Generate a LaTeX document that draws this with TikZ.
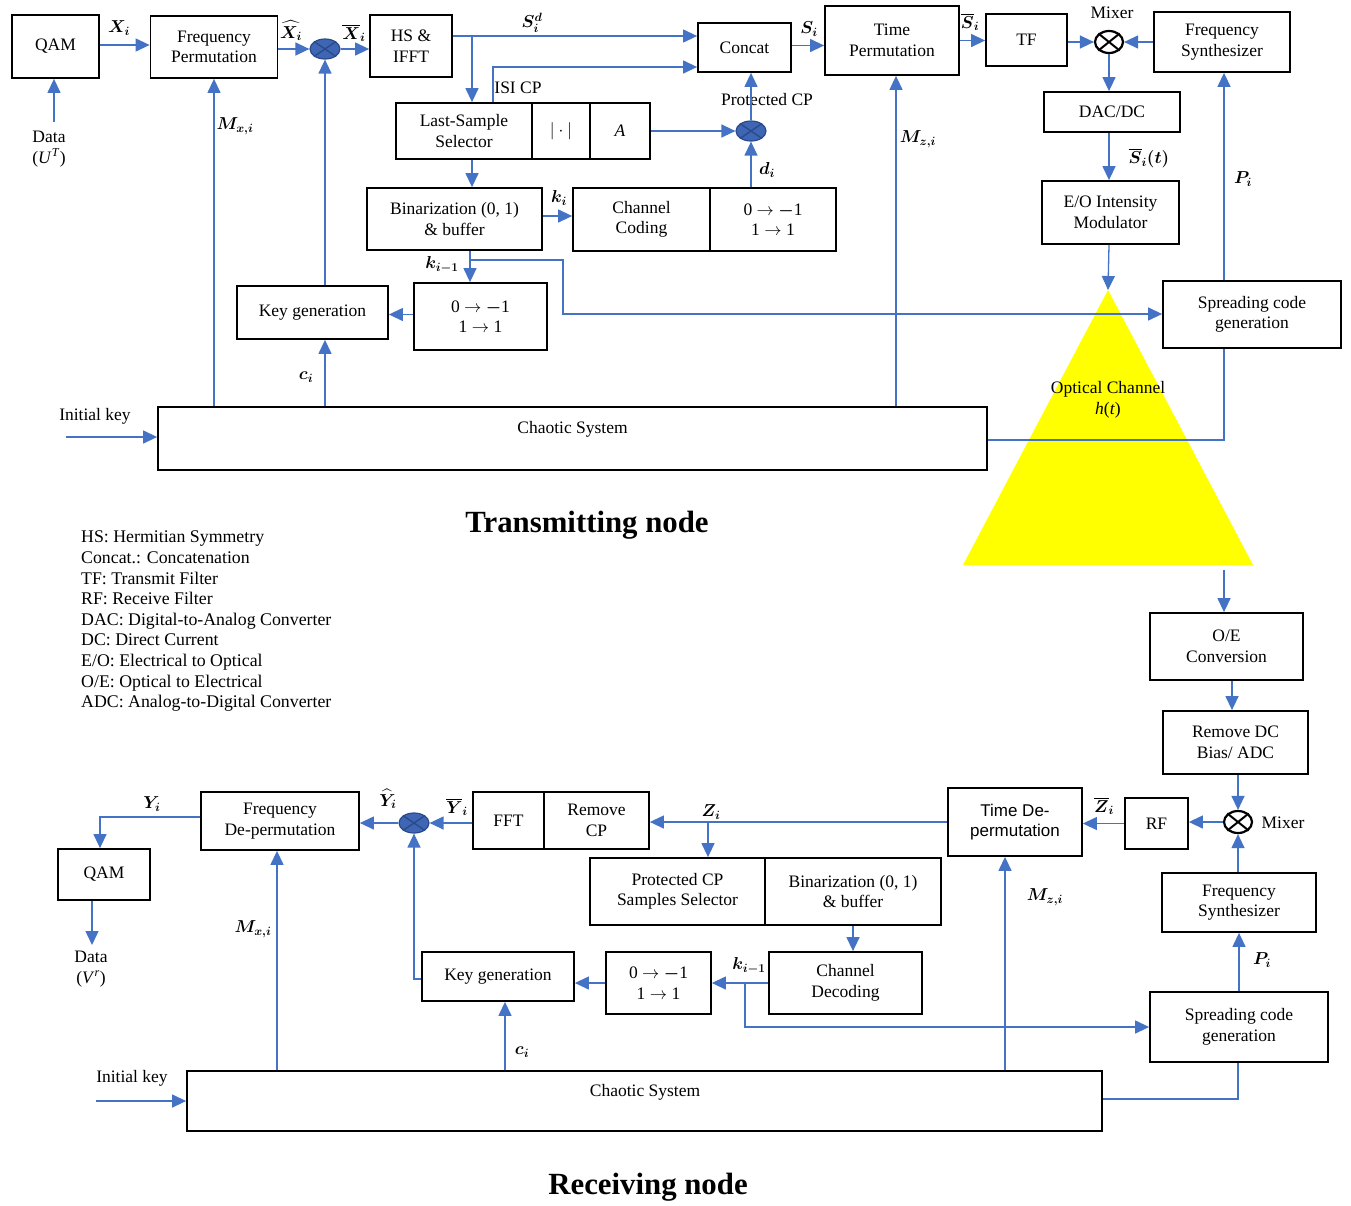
\documentclass[tikz,border=0pt]{standalone}
\usepackage{fontspec}
\setmainfont{Liberation Serif}
\setsansfont{Liberation Sans}
\usepackage{amsmath}
\usepackage{bm}
\usetikzlibrary{arrows.meta,shapes.geometric,calc}
\definecolor{lblue}{HTML}{4472C4}
\definecolor{mblue}{HTML}{3F66B5}
\definecolor{dblue}{HTML}{2A4A8A}
\definecolor{tyellow}{HTML}{FFFF00}
\begin{document}
\begin{tikzpicture}[x=1pt,y=-1pt,
  every node/.style={font=\fontsize{17.5}{20.5}\selectfont},
  box/.style={draw=black,line width=1.8pt,fill=white,align=center,inner sep=2pt},
  arr/.style={draw=lblue,line width=1.3pt,-{Triangle[length=14pt,width=13pt]}},
  ln/.style={draw=lblue,line width=1.3pt},
  mult/.style={ellipse,draw=dblue,line width=1.2pt,fill=mblue,minimum width=30pt,minimum height=20pt,inner sep=0pt},
  mixer/.style={ellipse,draw=black,line width=2.2pt,fill=white,minimum width=28pt,minimum height=22pt,inner sep=0pt},
  lab/.style={inner sep=1pt},
  ttl/.style={inner sep=1pt,font=\fontsize{30.8}{34}\selectfont\bfseries}
]
\fill[white] (0,0) rectangle (1351,1205);
\useasboundingbox (0,0) rectangle (1351,1205);

% optical channel triangle
\coordinate (apex) at (1108,290);
\fill[tyellow] (963,565) -- (apex) -- (1253,565) -- cycle;
\node[lab,align=center] (optc) at (1108,400) {Optical Channel\\\textit{h}(\textit{t})};

% ================= Transmitting node =================
\node[box,minimum width=87pt,minimum height=63pt] (qam1) at (55.5,46.5) {QAM};
\node[box,minimum width=127pt,minimum height=62pt] (fp) at (214,47) {Frequency\\Permutation};
\node[mult] (m1) at (325,49) {};
\draw[dblue,line width=1.4pt] (m1.north west) -- (m1.south east) (m1.north east) -- (m1.south west);
\node[box,minimum width=82pt,minimum height=62pt] (hs) at (411,46) {HS \&\\IFFT};
\node[box,minimum width=93pt,minimum height=49pt] (concat) at (744.5,47.5) {Concat};
\node[box,minimum width=134pt,minimum height=69pt] (tp) at (892,40.5) {Time\\Permutation};
\node[box,minimum width=81pt,minimum height=52pt] (tf) at (1026.5,40) {TF};
\node[mixer] (mix1) at (1109,42) {};
\draw[black,line width=2pt] (mix1.north west) -- (mix1.south east) (mix1.north east) -- (mix1.south west);
\node[lab] (mixl1) at (1112,13) {Mixer};
\node[box,minimum width=136pt,minimum height=60pt] (fs1) at (1222,42) {Frequency\\Synthesizer};
\node[box,minimum width=136pt,minimum height=40pt] (dac) at (1112,112) {DAC/DC};
\node[box,minimum width=137pt,minimum height=63pt] (eo) at (1110.5,212.5) {E/O Intensity\\Modulator};

\node[box,minimum width=136pt,minimum height=56pt] (lss) at (464,131) {Last-Sample\\Selector};
\node[box,minimum width=58pt,minimum height=56pt] (absb) at (561,131) {$|\cdot|$};
\node[box,minimum width=60pt,minimum height=56pt] (abox) at (620,131) {\textit{A}};
\node[mult] (m2) at (751,131) {};
\draw[dblue,line width=1.4pt] (m2.north west) -- (m2.south east) (m2.north east) -- (m2.south west);

\node[box,minimum width=175pt,minimum height=62pt] (bin1) at (454.5,219) {Binarization (0, 1)\\\& buffer};
\node[box,minimum width=137pt,minimum height=63pt] (cc) at (641.5,219.5) {Channel\\Coding};
\node[box,minimum width=126pt,minimum height=63pt] (map1) at (773,219.5) {0 $\rightarrow$ $\bm{-}$1\\1 $\rightarrow$ 1};
\node[box,minimum width=151pt,minimum height=53pt] (kg1) at (312.5,312.5) {Key generation};
\node[box,minimum width=133pt,minimum height=67pt] (map2) at (480.5,316.5) {0 $\rightarrow$ $\bm{-}$1\\1 $\rightarrow$ 1};
\node[box,minimum width=178pt,minimum height=67pt] (sc1) at (1252,314.5) {Spreading code\\generation};
\node[box,minimum width=829pt,minimum height=63pt] (cs1) at (572.5,438.5) {};
\node[lab] (cs1t) at (572.5,429) {Chaotic System};

% labels top
\node[lab] (lx) at (119,28) {$\bm{X_i}$};
\node[lab,align=center] (datau) at (49,149) {Data\\(\textit{U}\textsuperscript{\textit{T}})};
\node[inner sep=0pt] (lxh) at (291,31) {$\bm{\widehat{X}_i}$};
\node[lab] (lxb) at (354,33) {$\bm{\overline{X}_i}$};
\node[lab] (lsd) at (532,23) {$\bm{S_i^d}$};
\node[lab] (lisi) at (518,88) {ISI CP};
\node[lab] (lpcp) at (767,100) {Protected CP};
\node[lab] (ldi) at (767,170) {$\bm{d_i}$};
\node[lab] (lki) at (559,198) {$\bm{k_i}$};
\node[lab] (lki1) at (442,265) {$\bm{k_{i-1}}$};
\node[lab] (lci) at (306,377) {$\bm{c_i}$};
\node[lab] (lmx) at (235,126) {$\bm{M_{x,i}}$};
\node[lab] (lmz) at (918,139) {$\bm{M_{z,i}}$};
\node[lab] (lsi) at (809,29) {$\bm{S_i}$};
\node[lab] (lsb) at (970,22) {$\bm{\overline{S}_i}$};
\node[lab] (lst) at (1149,158) {$\bm{\overline{S}_i(t)}$};
\node[lab] (lpi) at (1243,179) {$\bm{P_i}$};
\node[lab] (ik1) at (95,416) {Initial key};

% connectors top
\draw[arr] ([yshift=1.5pt]qam1.east) -- ([yshift=1.5pt]qam1.east -| fp.west);
\coordinate (dU) at (54,122);
\draw[arr] (dU) -- (dU |- qam1.south);
\draw[arr] (fp.east |- m1) -- (m1.west);
\draw[arr] (m1.east) -- (m1 -| hs.west);
\coordinate (b1) at (472,36);
\draw[arr] (hs.east |- b1) -- (b1 -| concat.west);
\draw[arr] (b1) -- (b1 |- lss.north);
\coordinate (isi) at (493,67);
\draw[arr] (isi |- lss.north) -- (isi) -- (isi -| concat.west);
\draw[arr] (b1 |- lss.south) -- (b1 |- bin1.north);
\draw[arr] (abox.east) -- (m2.west);
\draw[arr] (m2.north) -- (m2 |- concat.south);
\draw[arr] (m2 |- map1.north) -- (m2.south);
\draw[arr] ([yshift=3pt]bin1.east) -- ([yshift=3pt]bin1.east -| cc.west);
\coordinate (kb) at (470,260);
\coordinate (kc) at (563,314);
\draw[arr] (kb |- bin1.south) -- (kb |- map2.north);
\draw[arr] (kb) -| (kc) -- (kc -| sc1.west);
\draw[arr] ([yshift=2pt]map2.west) -- ([yshift=2pt]map2.west -| kg1.east);
\draw[arr] (m1 |- kg1.north) -- (m1.south);
\draw[arr] (m1 |- cs1.north) -- (m1 |- kg1.south);
\draw[arr] (fp |- cs1.north) -- (fp.south);
\coordinate (mz) at (896,240);
\draw[arr] (mz |- cs1.north) -- (mz |- tp.south);
\draw[arr] ([yshift=2pt]concat.east) -- ([yshift=2pt]concat.east -| tp.west);
\draw[arr] (tp.east) -- (tp.east -| tf.west);
\draw[arr] (tf.east |- mix1) -- (mix1.west);
\draw[arr] (fs1.west |- mix1) -- (mix1.east);
\draw[arr] (mix1.south) -- (mix1 |- dac.north);
\draw[arr] (mix1 |- dac.south) -- (mix1 |- eo.north);
\draw[arr] (mix1 |- eo.south) -- (apex);
\coordinate (pc) at (1224,200);
\draw[arr] (pc |- sc1.north) -- (pc |- fs1.south);
\coordinate (cc1) at (1224,440);
\draw[ln] (cc1 -| cs1.east) -- (cc1) -- (pc |- sc1.south);
\coordinate (ika) at (66,437);
\draw[arr] (ika) -- (ika -| cs1.west);

\node[ttl] (ttx) at (587,525) {Transmitting node};

% legend
\node[lab,align=left,anchor=north west,font=\fontsize{17.8}{20.6}\selectfont] (legend) at (80,530) {HS: Hermitian Symmetry\\Concat.: Concatenation\\TF: Transmit Filter\\RF: Receive Filter\\DAC: Digital-to-Analog Converter\\DC: Direct Current\\E/O: Electrical to Optical\\O/E: Optical to Electrical\\ADC: Analog-to-Digital Converter};

% ================= Receiving node =================
\node[box,minimum width=153pt,minimum height=67pt] (oe) at (1226.5,646.5) {O/E\\Conversion};
\node[box,minimum width=145pt,minimum height=63pt] (rdc) at (1235.5,742.5) {Remove DC\\Bias/ ADC};
\node[mixer] (mix2) at (1238,822) {};
\draw[black,line width=2pt] (mix2.north west) -- (mix2.south east) (mix2.north east) -- (mix2.south west);
\node[lab] (mixl2) at (1283,823) {Mixer};
\node[box,minimum width=63pt,minimum height=51pt] (rf) at (1156.5,823.5) {RF};
\node[box,minimum width=134pt,minimum height=68pt,font=\fontsize{17}{20.5}\selectfont\sffamily] (tdp) at (1015,822) {Time De-\\permutation};
\node[box,minimum width=154pt,minimum height=59pt] (fs2) at (1239,902.5) {Frequency\\Synthesizer};
\node[box,minimum width=178pt,minimum height=70pt] (sc2) at (1239,1027) {Spreading code\\generation};
\node[box,minimum width=71pt,minimum height=57pt] (fft) at (508.5,820.5) {FFT};
\node[box,minimum width=105pt,minimum height=57pt] (rcp) at (596.5,820.5) {Remove\\CP};
\node[box,minimum width=175pt,minimum height=67pt] (pcp) at (677.5,891.5) {Protected CP\\Samples Selector};
\node[box,minimum width=176pt,minimum height=67pt] (bin2) at (853,891.5) {Binarization (0, 1)\\\& buffer};
\node[box,minimum width=153pt,minimum height=62pt] (cd) at (845.5,983) {Channel\\Decoding};
\node[box,minimum width=105pt,minimum height=62pt] (map3) at (658.5,983) {0 $\rightarrow$ $\bm{-}$1\\1 $\rightarrow$ 1};
\node[box,minimum width=152pt,minimum height=49pt] (kg2) at (498,976.5) {Key generation};
\node[mult] (m3) at (414,823) {};
\draw[dblue,line width=1.4pt] (m3.north west) -- (m3.south east) (m3.north east) -- (m3.south west);
\node[box,minimum width=158pt,minimum height=58pt] (fdp) at (280,821) {Frequency\\De-permutation};
\node[box,minimum width=92pt,minimum height=51pt] (qam2) at (104,874.5) {QAM};
\node[lab,align=center] (datav) at (91,969) {Data\\(\textit{V}\textsuperscript{\textit{r}})};
\node[box,minimum width=915pt,minimum height=60pt] (cs2) at (644.5,1101) {};
\node[lab] (cs2t) at (645,1092) {Chaotic System};
\node[lab] (ik2) at (132,1078) {Initial key};

% labels bottom
\node[lab] (lzb) at (1104,806) {$\bm{\overline{Z}_i}$};
\node[lab] (lzi) at (711,812) {$\bm{Z_i}$};
\node[lab] (lyb) at (457,807) {$\bm{\overline{Y}_i}$};
\node[inner sep=0pt] (lyh) at (388,799) {$\bm{\widehat{Y}_i}$};
\node[lab] (lyi) at (152,804) {$\bm{Y_i}$};
\node[lab] (lki2) at (749,966) {$\bm{k_{i-1}}$};
\node[lab] (lci2) at (522,1052) {$\bm{c_i}$};
\node[lab] (lmx2) at (253,929) {$\bm{M_{x,i}}$};
\node[lab] (lmz2) at (1045,897) {$\bm{M_{z,i}}$};
\node[lab] (lpi2) at (1262,960) {$\bm{P_i}$};

% connectors bottom
\coordinate (tb) at (1224,570);
\draw[arr] (tb) -- (tb |- oe.north);
\coordinate (oc) at (1232,695);
\draw[arr] (oc |- oe.south) -- (oc |- rdc.north);
\draw[arr] (mix2 |- rdc.south) -- (mix2.north);
\draw[arr] (mix2 |- fs2.north) -- (mix2.south);
\draw[arr] (mix2.west) -- (mix2 -| rf.east);
\draw[arr] (rf.west) -- (rf.west -| tdp.east);
\coordinate (zb) at (708,822);
\draw[arr] (zb -| tdp.west) -- (zb -| rcp.east);
\draw[arr] (zb) -- (zb |- pcp.north);
\draw[arr] (bin2.south) -- (bin2.south |- cd.north);
\draw[arr] (cd.west) -- (cd.west -| map3.east);
\coordinate (kb2) at (745,983);
\coordinate (kd2) at (745,1027);
\draw[arr] (kb2) -- (kd2) -- (kd2 -| sc2.west);
\draw[arr] (map3.west) -- (map3.west -| kg2.east);
\coordinate (kk) at (414,979);
\draw[arr] (kk -| kg2.west) -- (kk) -- (m3.south);
\draw[arr] (fft.west |- m3) -- (m3.east);
\draw[arr] (m3.west) -- (m3 -| fdp.east);
\coordinate (yq) at (100,817);
\draw[arr] (yq -| fdp.west) -- (yq) -- (yq |- qam2.north);
\coordinate (dv) at (92,945);
\draw[arr] (dv |- qam2.south) -- (dv);
\coordinate (ci2) at (505,1040);
\draw[arr] (ci2 |- cs2.north) -- (ci2 |- kg2.south);
\coordinate (mx2) at (277,960);
\draw[arr] (mx2 |- cs2.north) -- (mx2 |- fdp.south);
\coordinate (mz2) at (1005,960);
\draw[arr] (mz2 |- cs2.north) -- (mz2 |- tdp.south);
\draw[arr] (sc2.north) -- (sc2.north |- fs2.south);
\coordinate (cc2) at (1238,1099);
\draw[ln] (cc2 -| cs2.east) -- (cc2) -- (cc2 |- sc2.south);
\coordinate (ikb) at (96,1101);
\draw[arr] (ikb) -- (ikb -| cs2.west);

\node[ttl] (rtx) at (648,1187) {Receiving node};
\end{tikzpicture}
\end{document}
